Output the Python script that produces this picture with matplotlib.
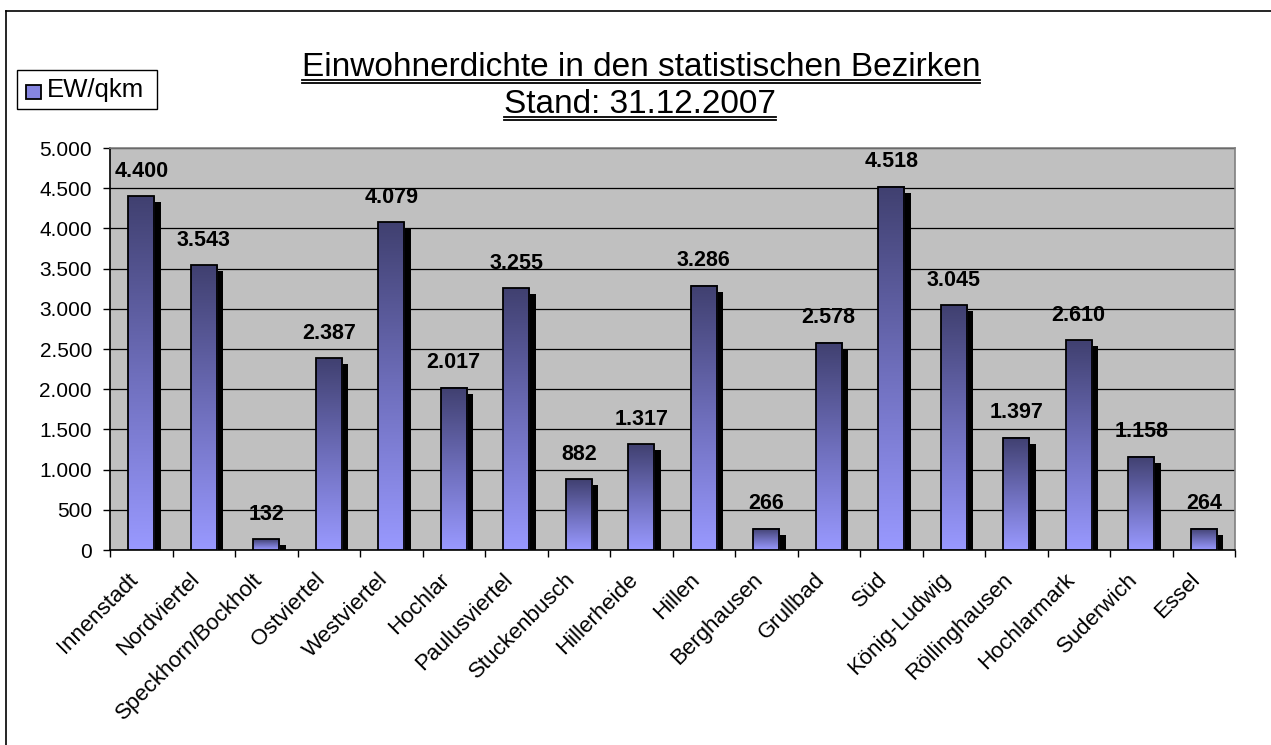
import numpy as np
import matplotlib
matplotlib.use("Agg")
import matplotlib.pyplot as plt
from matplotlib.colors import LinearSegmentedColormap
from matplotlib.patches import Rectangle
from matplotlib.lines import Line2D
from matplotlib.ticker import FuncFormatter, MultipleLocator
from matplotlib.transforms import ScaledTranslation

categories = ["Innenstadt", "Nordviertel", "Speckhorn/Bockholt", "Ostviertel",
              "Westviertel", "Hochlar", "Paulusviertel", "Stuckenbusch",
              "Hillerheide", "Hillen", "Berghausen", "Grullbad", "Süd",
              "König-Ludwig", "Röllinghausen", "Hochlarmark", "Suderwich", "Essel"]
values = [4400, 3543, 132, 2387, 4079, 2017, 3255, 882, 1317, 3286, 266,
          2578, 4518, 3045, 1397, 2610, 1158, 264]
series_name = "EW/qkm"
title_lines = ["Einwohnerdichte in den statistischen Bezirken", "Stand: 31.12.2007"]

plt.rcParams['font.family'] = ['Liberation Sans', 'DejaVu Sans']

W, H = 1271, 745
fig = plt.figure(figsize=(W / 100, H / 100), dpi=100)

# outer border (left and top visible)
fig.add_artist(Line2D([6 / W, 6 / W], [0, 1 - 11 / H], transform=fig.transFigure, color='black', lw=1.2))
fig.add_artist(Line2D([6 / W, 1], [1 - 11 / H, 1 - 11 / H], transform=fig.transFigure, color='black', lw=1.2))

left, right, top, bottom = 110, 1235, 148, 550
ax = fig.add_axes([left / W, 1 - bottom / H, (right - left) / W, (bottom - top) / H])
ax.set_facecolor('#C0C0C0')

n = len(categories)
ax.set_xlim(-0.5, n - 0.5)
ax.set_ylim(0, 5000)

cmap = LinearSegmentedColormap.from_list('bar', ['#9999FF', '#6E6EBB', '#404070'])
grad = np.linspace(0, 1, 256).reshape(-1, 1)

bw = 0.42
dx = 0.1
dy = 75
ax.yaxis.set_major_locator(MultipleLocator(500))
ax.grid(axis='y', color='black', lw=0.9, zorder=1)
ax.set_axisbelow(True)

for i, v in enumerate(values):
    x0 = i - bw / 2
    # shadow
    ax.add_patch(Rectangle((x0 + dx, 0), bw, max(v - dy, 0), facecolor='black',
                           edgecolor='none', zorder=2))
    ax.imshow(grad, extent=[x0, x0 + bw, 0, v], origin='lower', cmap=cmap,
              aspect='auto', zorder=3, interpolation='bilinear')
    ax.add_patch(Rectangle((x0, 0), bw, v, facecolor='none', edgecolor='black',
                           lw=1.3, zorder=4))
    ax.annotate(f"{v:,}".replace(",", "."), (i, v), xytext=(0, 18),
                textcoords='offset points', ha='center', va='center',
                fontsize=15.5, fontweight='bold', zorder=5)

ax.set_xlim(-0.5, n - 0.5)
ax.set_ylim(0, 5000)

ax.yaxis.set_major_formatter(FuncFormatter(lambda y, p: f"{int(y):,}".replace(",", ".")))
ax.tick_params(axis='y', labelsize=15, length=5, width=1, direction='out', pad=8)
ax.set_xticks(np.arange(n))
ax.set_xticklabels(categories, rotation=45, ha='right', va='center',
                   rotation_mode='anchor', fontsize=16)
ax.tick_params(axis='x', which='major', length=0, pad=19)
off = ScaledTranslation(-7 / 100, 0, fig.dpi_scale_trans)
for lab in ax.get_xticklabels():
    lab.set_transform(lab.get_transform() + off)
ax.set_xticks(np.arange(-0.5, n, 1), minor=True)
ax.tick_params(axis='x', which='minor', length=5, width=1, direction='out')

for s in ['top', 'right']:
    ax.spines[s].set_color('#808080')
    ax.spines[s].set_linewidth(1.2)
for s in ['left', 'bottom']:
    ax.spines[s].set_color('black')
    ax.spines[s].set_linewidth(1.2)

# title with double underline
title_family = ['Liberation Sans Narrow', 'Liberation Sans', 'DejaVu Sans']
t1 = fig.text(641 / W, 1 - 76 / H, title_lines[0], ha='center', va='baseline',
              fontsize=24, family=title_family)
t2 = fig.text(640 / W, 1 - 113 / H, title_lines[1], ha='center', va='baseline',
              fontsize=24, family=title_family)
fig.canvas.draw()
r = fig.canvas.get_renderer()
for t, base in [(t1, 76), (t2, 113)]:
    bb = t.get_window_extent(r)
    for o in (4, 7):
        yy = 1 - (base + o) / H
        fig.add_artist(Line2D([bb.x0 / W, bb.x1 / W], [yy, yy], transform=fig.transFigure,
                              color='black', lw=1.3))

# legend
fig.add_artist(Rectangle((17 / W, 1 - 109 / H), 140 / W, 39 / H, transform=fig.transFigure,
                         facecolor='white', edgecolor='black', lw=1.0))
fig.add_artist(Rectangle((26 / W, 1 - 99 / H), 15 / W, 14 / H, transform=fig.transFigure,
                         facecolor='#8585E0', edgecolor='black', lw=1.3))
fig.text(47 / W, 1 - 90 / H, series_name, ha='left', va='center', fontsize=18.5)

fig.savefig('out.png', dpi=100)
